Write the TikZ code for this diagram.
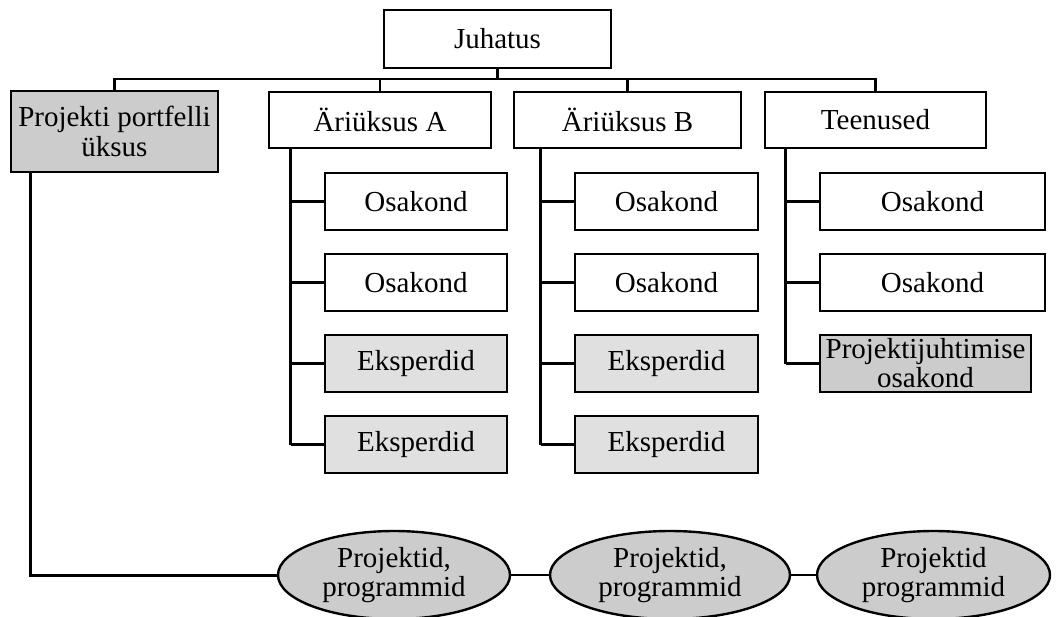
\documentclass[tikz,border=0pt]{standalone}
\usepackage{fontspec}
\setmainfont{Liberation Serif}
\usetikzlibrary{shapes.geometric,calc}
\definecolor{unitgray}{HTML}{CCCCCC}
\definecolor{expertgray}{HTML}{E0E0E0}
\begin{document}
\begin{tikzpicture}[x=1pt,y=-1pt,
  font=\fontsize{29}{30}\selectfont,
  box/.style={draw,rectangle,line width=2.4pt,inner sep=0pt,align=center,
    minimum height=57pt},
  unit/.style={box,fill=unitgray},
  expert/.style={box,fill=expertgray},
  proj/.style={draw,ellipse,line width=2.4pt,inner sep=0pt,align=center,
    fill=unitgray,minimum height=88pt},
  tree/.style={line width=2.2pt},
  trunk/.style={line width=3pt}]
\useasboundingbox (0,0) rectangle (1056,616);

% top level
\node[box,minimum width=227pt,minimum height=58pt] (juh) at (497.5,39) {Juhatus};
\node[unit,minimum width=207pt,minimum height=81pt] (ppu) at (114.5,131.5)
  {Projekti portfelli\\üksus};
\node[box,minimum width=222pt,minimum height=56pt] (aa) at (380,120) {Äriüksus A};
\node[box,minimum width=227pt,minimum height=56pt] (ab) at (627.5,120) {Äriüksus B};
\node[box,minimum width=221pt,minimum height=56pt] (ten) at (875.5,120) {Teenused};

% departments of business unit A
\node[box,minimum width=182pt] (a1) at (416,201.5) {Osakond};
\node[box,minimum width=182pt] (a2) at (416,282.5) {Osakond};
\node[expert,minimum width=182pt] (a3) at (416,363.5) {Eksperdid};
\node[expert,minimum width=182pt] (a4) at (416,444.5) {Eksperdid};

% departments of business unit B
\node[box,minimum width=183pt] (b1) at (666.5,201.5) {Osakond};
\node[box,minimum width=183pt] (b2) at (666.5,282.5) {Osakond};
\node[expert,minimum width=183pt] (b3) at (666.5,363.5) {Eksperdid};
\node[expert,minimum width=183pt] (b4) at (666.5,444.5) {Eksperdid};

% services
\node[box,minimum width=225pt] (t1) at (932.5,201.5) {Osakond};
\node[box,minimum width=225pt] (t2) at (932.5,282.5) {Osakond};
\node[unit,minimum width=211pt] (t3) at (925.5,363.5)
  {Projektijuhtimise\\[-1pt]osakond};

% projects and programmes
\node[proj,minimum width=232pt] (e1) at (394,575) {Projektid,\\[-1pt]programmid};
\node[proj,minimum width=240pt] (e2) at (670,575) {Projektid,\\[-1pt]programmid};
\node[proj,minimum width=233pt] (e3) at (933.5,575) {Projektid\\[-1pt]programmid};

% board to units
\coordinate (bus) at (0,79);
\draw[tree] (juh.south) -- (juh.south |- bus);
\draw[tree] (ppu.north) -- (ppu.north |- bus) -- (ten.north |- bus) -- (ten.north);
\draw[tree] (aa.north |- bus) -- (aa.north);
\draw[tree] (ab.north |- bus) -- (ab.north);

% unit trunks and branches
\coordinate (ta) at ($(aa.south west)+(23,0)$);
\coordinate (tb) at ($(ab.south west)+(28,0)$);
\coordinate (tt) at ($(ten.south west)+(22,0)$);
\draw[trunk] (ta) -- (ta |- a4.west);
\foreach \n in {a1,a2,a3,a4} \draw[tree] (ta |- \n.west) -- (\n.west);
\draw[trunk] (tb) -- (tb |- b4.west);
\foreach \n in {b1,b2,b3,b4} \draw[tree] (tb |- \n.west) -- (\n.west);
\draw[trunk] (tt) -- (tt |- t3.west);
\foreach \n in {t1,t2,t3} \draw[tree] (tt |- \n.west) -- (\n.west);

% portfolio unit to projects
\coordinate (tp) at ($(ppu.south west)+(21,0)$);
\draw[trunk] (tp) |- (e1.west);
\draw[tree] (e1.east) -- (e2.west);
\draw[tree] (e2.east) -- (e3.west);
\end{tikzpicture}
\end{document}
